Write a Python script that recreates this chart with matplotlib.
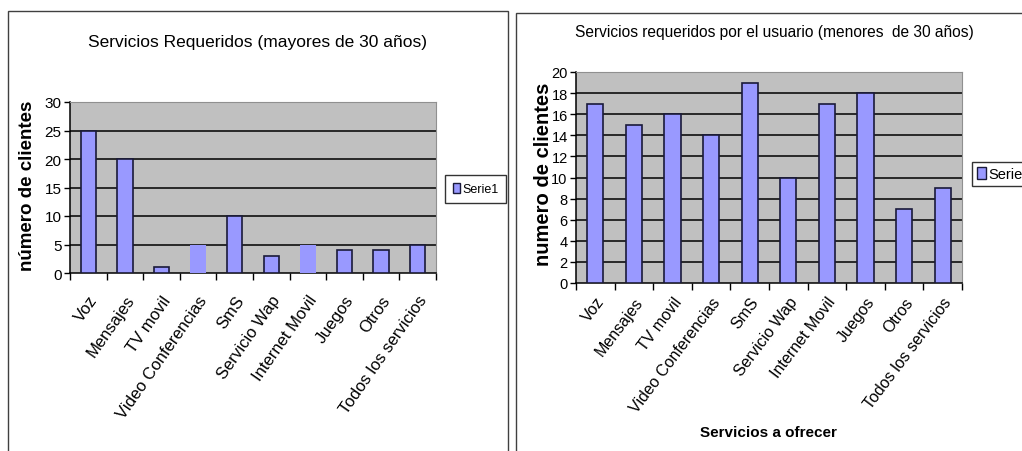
import matplotlib
matplotlib.use('Agg')
import matplotlib.pyplot as plt
import matplotlib.ticker as ticker
from matplotlib.patches import Rectangle, Patch
import numpy as np

servicios = ['Voz', 'Mensajes', 'TV movil', 'Video Conferencias', 'SmS',
             'Servicio Wap', 'Internet Movil', 'Juegos', 'Otros',
             'Todos los servicios']
mayores = [25, 20, 1, 5, 10, 3, 5, 4, 4, 5]
menores = [17, 15, 16, 14, 19, 10, 17, 18, 7, 9]

title_left = 'Servicios Requeridos (mayores de 30 años)'
title_right = 'Servicios requeridos por el usuario (menores  de 30 años)'
ylabel_left = 'número de clientes'
ylabel_right = 'numero de clientes'
xlabel_right = 'Servicios a ofrecer'
serie = 'Serie1'

fam = ['Liberation Sans', 'DejaVu Sans']

W, H = 1022, 452
fig = plt.figure(figsize=(W / 100, H / 100), dpi=100)
fig.patch.set_facecolor('white')

def px(x0, y0, x1, y1):
    return [x0 / W, 1 - y1 / H, (x1 - x0) / W, (y1 - y0) / H]

# panel borders
fig.patches.append(Rectangle((8 / W, -0.05), (508 - 8) / W, 1.05 - 12 / H,
                             transform=fig.transFigure, fill=False,
                             edgecolor='#404040', lw=1))
fig.patches.append(Rectangle((516 / W, -0.05), 0.6, 1.05 - 14 / H,
                             transform=fig.transFigure, fill=False,
                             edgecolor='#404040', lw=1))

def bar_panel(rect, values, ymax, step, xfs, yfs, rot, pad, no_edge=()):
    ax = fig.add_axes(rect)
    ax.set_facecolor('#c0c0c0')
    x = np.arange(len(values))
    edges = ['none' if i in no_edge else '#1a1a3a' for i in range(len(values))]
    ax.bar(x, values, width=0.42, color='#9999ff', edgecolor=edges,
           linewidth=1.2, zorder=3)
    ax.set_xlim(-0.5, len(values) - 0.5)
    ax.set_ylim(0, ymax)
    ax.yaxis.set_major_locator(ticker.MultipleLocator(step))
    for v in np.arange(step, ymax, step):
        ax.axhline(v, color='black', lw=1.1, zorder=2)
    ax.set_xticks(x)
    ax.set_xticks(np.arange(-0.5, len(values)), minor=True)
    ax.set_xticklabels(servicios, rotation=rot, ha='right', va='top',
                       rotation_mode='anchor', fontsize=xfs, family=fam)
    ax.tick_params(axis='x', which='major', length=0, pad=pad)
    ax.tick_params(axis='x', which='minor', length=5, direction='out', width=1)
    ax.tick_params(axis='y', length=4, direction='out', width=1,
                   labelsize=yfs, pad=2)
    for lab in ax.get_yticklabels():
        lab.set_family(fam)
    for s in ['top', 'right']:
        ax.spines[s].set_color('#909090')
    for s in ['left', 'bottom']:
        ax.spines[s].set_color('black')
        ax.spines[s].set_linewidth(1.1)
    return ax

ax1 = bar_panel(px(70, 103, 436, 274), mayores, 30, 5, 12, 11, 55, 14,
                no_edge=(3, 6))
ax2 = bar_panel(px(576, 73, 962, 284), menores, 20, 2, 11.5, 10.5, 53, 8)

fig.text(258 / W, 1 - 43 / H, title_left, ha='center', va='center',
         fontsize=12.5, family=fam)
fig.text(774 / W, 1 - 32 / H, title_right, ha='center', va='center',
         fontsize=11.2, family=fam)
fig.text(28 / W, 1 - 186 / H, ylabel_left, ha='center', va='center',
         rotation=90, fontsize=13.5, fontweight='bold', family=fam)
fig.text(543 / W, 1 - 174 / H, ylabel_right, ha='center', va='center',
         rotation=90, fontsize=14.5, fontweight='bold', family=fam)
fig.text(768 / W, 1 - 433 / H, xlabel_right, ha='center', va='center',
         fontsize=11, fontweight='bold', family=fam)

handle = [Patch(facecolor='#9999ff', edgecolor='#1a1a3a', lw=1)]
for xa, ya, fs, bp in [(445, 190, 9, 0.6), (972, 175, 10.5, 0.35)]:
    leg = fig.legend(handle, [serie], loc='center left',
                     bbox_to_anchor=(xa / W, 1 - ya / H), frameon=True,
                     fancybox=False, edgecolor='black', handlelength=0.6,
                     handleheight=0.8, handletextpad=0.2, borderpad=bp,
                     borderaxespad=0, prop={'family': fam, 'size': fs})
    leg.get_frame().set_linewidth(1)

fig.savefig('out.png', dpi=100)
